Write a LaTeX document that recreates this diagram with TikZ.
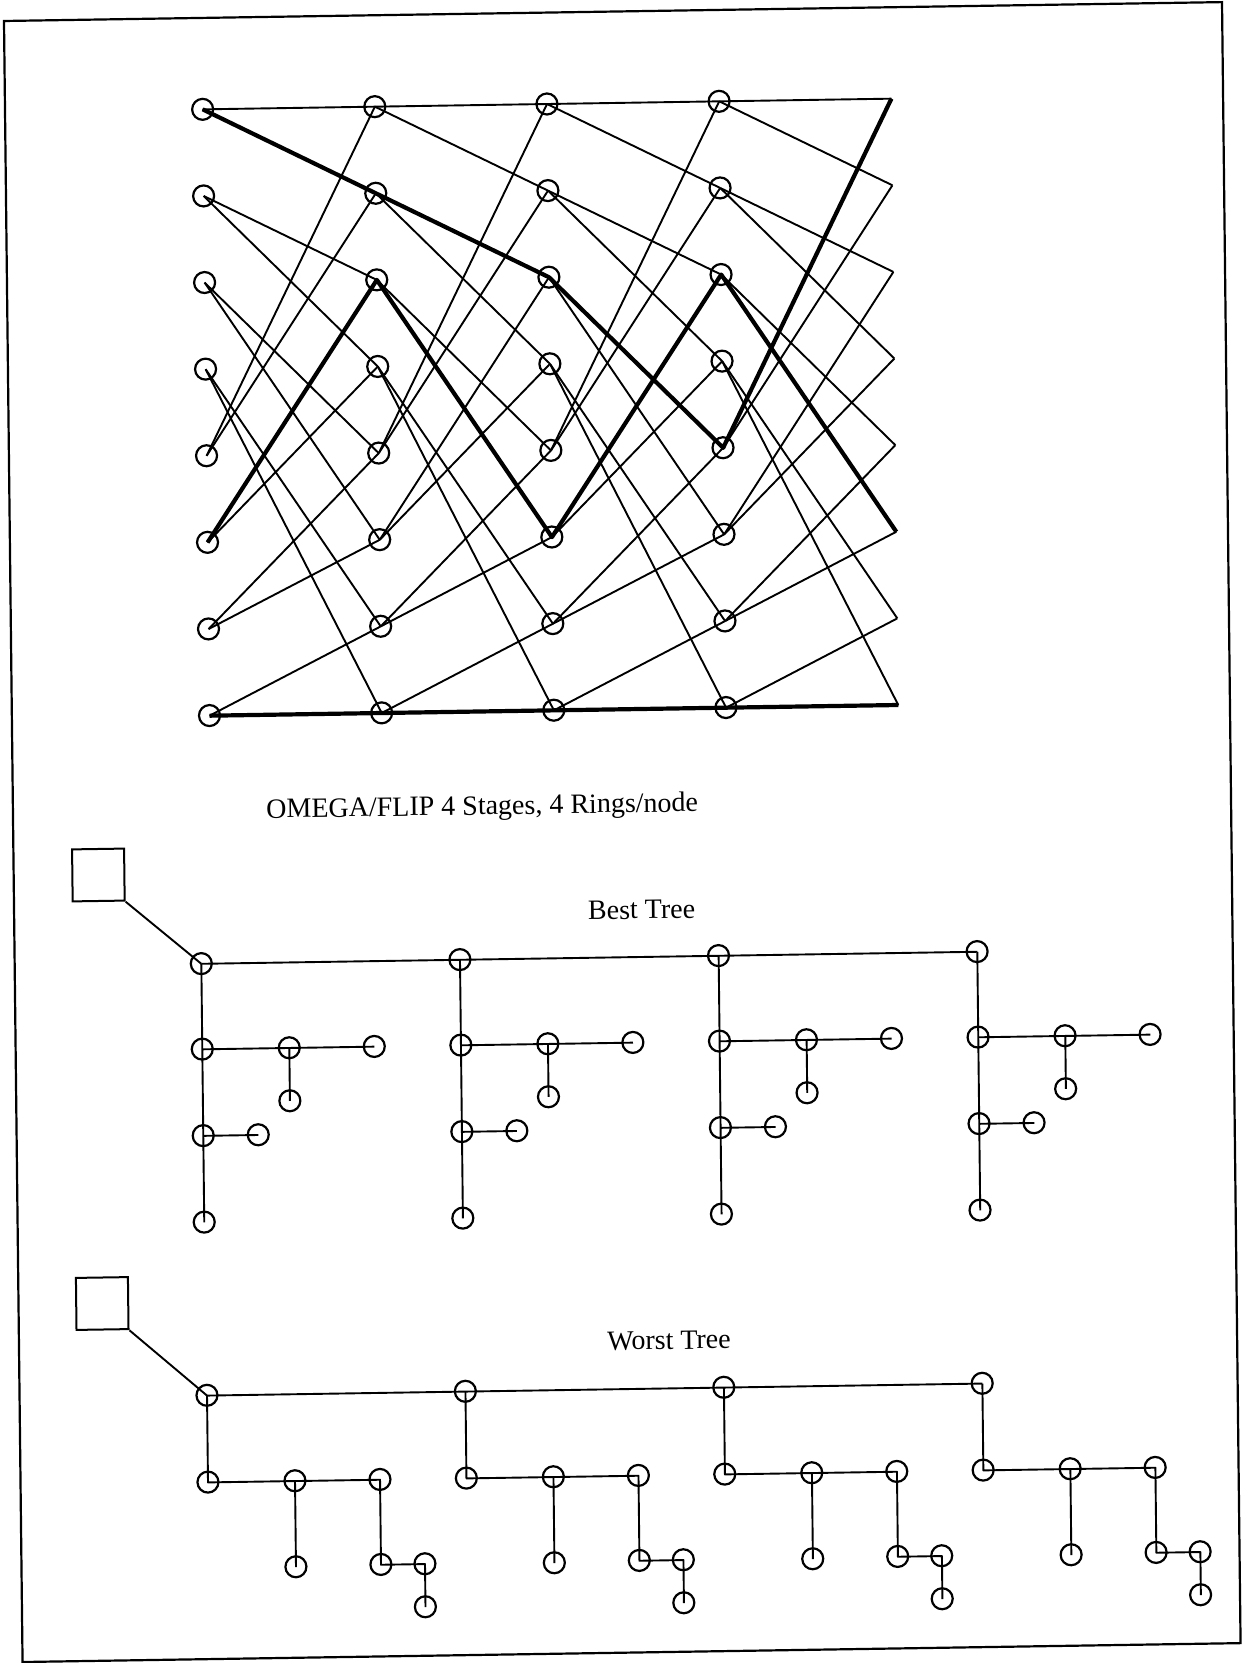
\documentclass[tikz,border=0pt]{standalone}
\usepackage{fontspec}
\setmainfont{Liberation Serif}
\tikzset{
  ring/.style={circle,draw,line width=1.1pt,minimum size=10.5pt,inner sep=0pt},
  link/.style={line width=0.95pt,line join=round},
  hot/.style={line width=2.1pt,line join=round},
  hub/.style={rectangle,draw,line width=1pt,minimum size=26pt,inner sep=0pt},
  label/.style={font=\fontsize{14}{16}\selectfont,inner sep=0pt,anchor=base west},
  frame/.style={line width=1.1pt}
}
\begin{document}
\begin{tikzpicture}[x=0.5pt,y=-0.5pt]
\useasboundingbox (0,0) rectangle (1242,1663);
\begin{scope}[cm={1,0.0155,-0.0113,1,(4,21)},transform shape]
% page frame
\draw[frame] (0,0) rectangle (1218,1641);

% ---------- Omega / flip network ----------
\foreach \c in {0,1,2,3}{
  \foreach \r in {0,...,7}{
    \node[ring] (n\c-\r) at ({197.6+172.15*\c},{91.4+86.6*\r}) {};
  }
}
\foreach \r in {0,...,7}{
  \coordinate (n4-\r) at ({197.6+172.15*4},{91.4+86.6*\r});
}
\foreach \c in {0,1,2,3}{
  \foreach \r in {0,...,7}{
    \pgfmathtruncatemacro\d{\c+1}
    \pgfmathtruncatemacro\a{mod(2*\r,8)}
    \pgfmathtruncatemacro\b{mod(2*\r+1,8)}
    \draw[link] (n\c-\r.center) -- (n\d-\a.center);
    \draw[link] (n\c-\r.center) -- (n\d-\b.center);
  }
}
\draw[hot] (n0-0.center) -- (n1-1.center) -- (n2-2.center) -- (n3-4.center) -- (n4-0);
\draw[hot] (n0-5.center) -- (n1-2.center) -- (n2-5.center) -- (n3-2.center) -- (n4-5);
\draw[hot] (n0-7.center) -- (n1-7.center) -- (n2-7.center) -- (n3-7.center) -- (n4-7);

\node[label] (cap) at (253,801) {OMEGA/FLIP 4 Stages, 4 Rings/node};

% ---------- Best tree ----------
\node[label] (bestlbl) at (573.5,907.4) {Best Tree};
\node[hub] (hubB) at (84.7,855.3) {};
\foreach \k in {0,1,2,3}{
  \pgfmathsetmacro\bx{186.6+258.6*\k}
  \node[ring] (bT\k) at (\bx,945.5) {};
  \node[ring] (bA\k) at (\bx,1031) {};
  \node[ring] (bB\k) at ({\bx+87},1031) {};
  \node[ring] (bC\k) at ({\bx+172},1031) {};
  \node[ring] (bD\k) at ({\bx+87},1084) {};
  \node[ring] (bE\k) at (\bx,1117.5) {};
  \node[ring] (bF\k) at ({\bx+55},1117.5) {};
  \node[ring] (bG\k) at (\bx,1204) {};
  \draw[link] (bT\k.center) -- (bA\k.center) -- (bE\k.center) -- (bG\k.center);
  \draw[link] (bA\k.center) -- (bB\k.center) -- (bC\k.center);
  \draw[link] (bB\k.center) -- (bD\k.center);
  \draw[link] (bE\k.center) -- (bF\k.center);
}
\draw[link] (hubB.south east) -- (bT0.center);
\draw[link] (bT0.center) -- (bT1.center) -- (bT2.center) -- (bT3.center);

% ---------- Worst tree ----------
\node[label] (worstlbl) at (587.8,1338.3) {Worst Tree};
\node[hub] (hubW) at (83.7,1283.8) {};
\foreach \k in {0,1,2,3}{
  \pgfmathsetmacro\bx{187.4+258.4*\k}
  \node[ring] (wT\k) at (\bx,1377.2) {};
  \node[ring] (wA\k) at (\bx,1464) {};
  \node[ring] (wB\k) at ({\bx+87},1464) {};
  \node[ring] (wC\k) at ({\bx+172},1464) {};
  \node[ring] (wD\k) at ({\bx+87},1550) {};
  \node[ring] (wE\k) at ({\bx+172},1549) {};
  \node[ring] (wF\k) at ({\bx+216},1549) {};
  \node[ring] (wG\k) at ({\bx+216},1592) {};
  \draw[link] (wT\k.center) -- (wA\k.center) -- (wB\k.center) -- (wC\k.center) -- (wE\k.center) -- (wF\k.center) -- (wG\k.center);
  \draw[link] (wB\k.center) -- (wD\k.center);
}
\draw[link] (hubW.south east) -- (wT0.center);
\draw[link] (wT0.center) -- (wT1.center) -- (wT2.center) -- (wT3.center);
\end{scope}
\end{tikzpicture}
\end{document}
